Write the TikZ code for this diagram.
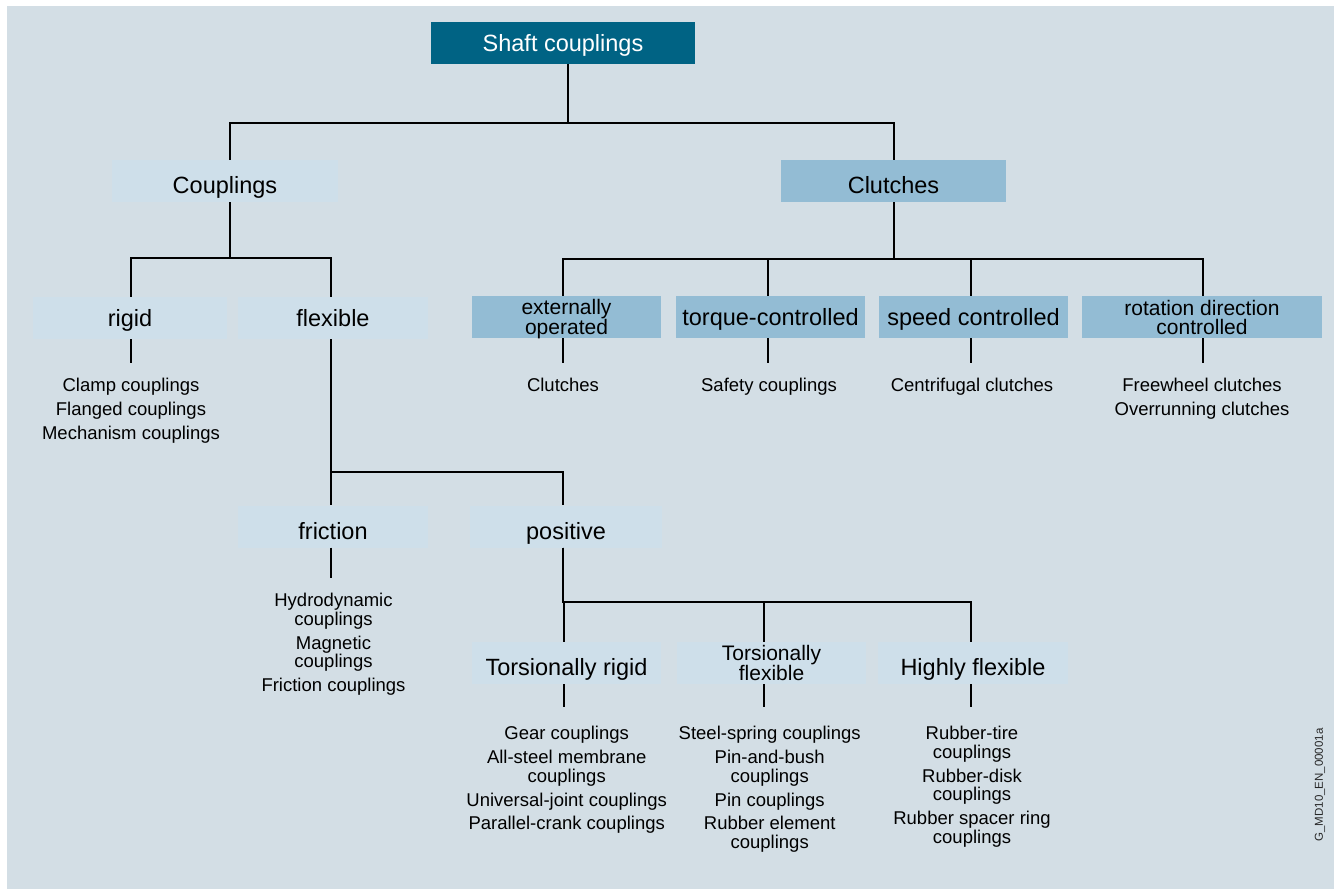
\documentclass[tikz,border=0pt]{standalone}
\usepackage{fontspec}
\setmainfont{Liberation Sans}
\definecolor{cBg}{RGB}{211,222,229}
\definecolor{cLight}{RGB}{206,223,234}
\definecolor{cMid}{RGB}{147,188,212}
\definecolor{cDark}{RGB}{0,99,132}
\begin{document}
\begin{tikzpicture}[x=1pt,y=-1pt,
  conn/.style={draw=black, line width=1.6pt},
  box/.style={rectangle, inner sep=0pt, minimum height=42pt, align=center},
  bigtxt/.style={font=\fontsize{23.5}{24}\selectfont},
  smalltxt/.style={font=\fontsize{21}{19}\selectfont, text depth=0pt},
  ctr/.style={text height=16.8pt, text depth=0pt},
  low/.style={text height=25.8pt, text depth=0pt},
  topbox/.style={box, bigtxt, ctr, fill=cDark, text=white},
  lightbox/.style={box, bigtxt, fill=cLight},
  midbox/.style={box, bigtxt, fill=cMid},
  items/.style={align=center, inner sep=0pt, anchor=north, font=\fontsize{18.5}{18.6}\selectfont},
]
\useasboundingbox (0,0) rectangle (1335,890);
\fill[white] (0,0) rectangle (1335,890);
\fill[cBg] (7,6) rectangle (1334,889);

% level boxes
\node[topbox, minimum width=264pt] (shaft) at (563,43) {Shaft couplings};
\node[lightbox, low, minimum width=226pt] (couplings) at (225,181) {Couplings};
\node[midbox, low, minimum width=225pt] (clutches) at (893.5,181) {Clutches};

\node[midbox, smalltxt, minimum width=189pt] (ext) at (566.5,317) {externally\\operated};
\node[midbox, ctr, minimum width=189pt] (torque) at (770.5,317) {torque-controlled};
\node[midbox, ctr, minimum width=189pt] (speed) at (973.5,317) {speed controlled};
\node[midbox, smalltxt, minimum width=240pt] (rot) at (1202,317) {rotation direction\\controlled};

\node[lightbox, ctr, minimum width=194pt] (rigid) at (130,318) {rigid};
\node[lightbox, ctr, minimum width=190pt] (flexible) at (333,318) {flexible};
\node[lightbox, low, minimum width=190pt] (friction) at (333,526.5) {friction};
\node[lightbox, low, minimum width=192pt] (positive) at (566,526.5) {positive};

\node[lightbox, low, minimum width=189pt] (trig) at (566.5,663) {Torsionally rigid};
\node[lightbox, smalltxt, minimum width=189pt] (tflex) at (771.5,663) {Torsionally\\flexible};
\node[lightbox, low, minimum width=190pt] (hflex) at (973,663) {Highly flexible};

% item lists
\node[items] (rigidItems) at (131,378) {Clamp couplings\\[5.3pt]Flanged couplings\\[5.3pt]Mechanism couplings};
\node[items] (extItems) at (563,378) {Clutches};
\node[items] (torqueItems) at (769,378) {Safety couplings};
\node[items] (speedItems) at (972,378) {Centrifugal clutches};
\node[items] (rotItems) at (1202,378) {Freewheel clutches\\[5.3pt]Overrunning clutches};
\node[items] (frictionItems) at (333.5,593) {Hydrodynamic\\couplings\\[5.3pt]Magnetic\\couplings\\[5.3pt]Friction couplings};
\node[items] (trigItems) at (566.7,726) {Gear couplings\\[5.3pt]All-steel membrane\\couplings\\[5.3pt]Universal-joint couplings\\[5.3pt]Parallel-crank couplings};
\node[items] (tflexItems) at (769.7,726) {Steel-spring couplings\\[5.3pt]Pin-and-bush\\couplings\\[5.3pt]Pin couplings\\[5.3pt]Rubber element\\couplings};
\node[items] (hflexItems) at (972,726) {Rubber-tire\\couplings\\[5.3pt]Rubber-disk\\couplings\\[5.3pt]Rubber spacer ring\\couplings};

% side code
\node[rotate=90, inner sep=0pt, font=\fontsize{11.5}{12}\selectfont, text=black!85] (code) at (1320,785) {G\_MD10\_EN\_00001a};

% tree connectors
\draw[conn] ([xshift=5pt]shaft.south) -- ++(0,59) -| ([xshift=0.5pt]clutches.north);
\draw[conn] ([xshift=5pt]shaft.south) -- ++(0,59) -| ([xshift=5pt]couplings.north);

\draw[conn] ([xshift=5pt]couplings.south) -- ++(0,56) -| ([xshift=1pt]rigid.north);
\draw[conn] ([xshift=5pt]couplings.south) -- ++(0,56) -| ([xshift=-2pt]flexible.north);

\draw[conn] ([xshift=0.5pt]clutches.south) -- ++(0,57) -| ([xshift=-3.5pt]ext.north);
\draw[conn] ([xshift=0.5pt]clutches.south) -- ++(0,57) -| ([xshift=-2.5pt]torque.north);
\draw[conn] ([xshift=0.5pt]clutches.south) -- ++(0,57) -| ([xshift=-2.5pt]speed.north);
\draw[conn] ([xshift=0.5pt]clutches.south) -- ++(0,57) -| ([xshift=1pt]rot.north);

\draw[conn] ([xshift=-2pt]flexible.south) -- ++(0,133) -| ([xshift=-2pt]friction.north);
\draw[conn] ([xshift=-2pt]flexible.south) -- ++(0,133) -| ([xshift=-3pt]positive.north);

\draw[conn] ([xshift=-3pt]positive.south) -- ++(0,54.5) -| ([xshift=-2.5pt]trig.north);
\draw[conn] ([xshift=-3pt]positive.south) -- ++(0,54.5) -| ([xshift=-7.5pt]tflex.north);
\draw[conn] ([xshift=-3pt]positive.south) -- ++(0,54.5) -| ([xshift=-2pt]hflex.north);

% stubs to item lists
\draw[conn] ([xshift=1pt]rigid.south) -- ++(0,24);
\draw[conn] ([xshift=-3.5pt]ext.south) -- ++(0,25);
\draw[conn] ([xshift=-2.5pt]torque.south) -- ++(0,25);
\draw[conn] ([xshift=-2.5pt]speed.south) -- ++(0,25);
\draw[conn] ([xshift=1pt]rot.south) -- ++(0,25);
\draw[conn] ([xshift=-2pt]friction.south) -- ++(0,30.5);
\draw[conn] ([xshift=-2.5pt]trig.south) -- ++(0,23);
\draw[conn] ([xshift=-7.5pt]tflex.south) -- ++(0,23);
\draw[conn] ([xshift=-2pt]hflex.south) -- ++(0,23);
\end{tikzpicture}
\end{document}
